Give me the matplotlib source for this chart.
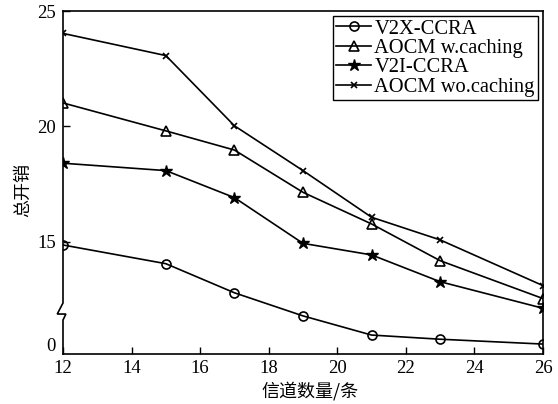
import matplotlib
matplotlib.use('Agg')
import matplotlib.pyplot as plt
from matplotlib.lines import Line2D
import matplotlib.transforms as mtransforms

# channel counts and total cost for each scheme
channels = [12, 15, 17, 19, 21, 23, 26]
v2x_ccra = [14.87, 14.06, 12.80, 11.80, 10.97, 10.79, 10.58]
aocm_w_caching = [21.02, 19.81, 18.98, 17.15, 15.78, 14.19, 12.55]
v2i_ccra = [18.41, 18.09, 16.92, 14.94, 14.44, 13.28, 12.13]
aocm_wo_caching = [24.03, 23.07, 20.03, 18.09, 16.07, 15.09, 13.11]

ytick_vals = [10.55, 15, 20, 25]
ytick_labels = ['0', '15', '20', '25']
xtick_vals = [12, 14, 16, 18, 20, 22, 24, 26]

serif = ['Liberation Serif', 'DejaVu Serif']
cjk = ['Noto Sans CJK SC', 'DejaVu Sans']


def main():
    plt.rcParams['font.family'] = serif

    fig = plt.figure(figsize=(5.58, 4.04), dpi=100)
    ax = fig.add_axes([63 / 558, 1 - 354 / 404, 480 / 558, 343 / 404])

    lw = 1.2
    ax.plot(channels, v2x_ccra, color='black', lw=lw, marker='o', ms=6.5,
            mfc='none', mec='black', mew=1.2, label='V2X-CCRA')
    ax.plot(channels, aocm_w_caching, color='black', lw=lw, marker='^', ms=7.5,
            mfc='none', mec='black', mew=1.2, label='AOCM w.caching')
    ax.plot(channels, v2i_ccra, color='black', lw=lw, marker='*', ms=9,
            mfc='black', mec='black', label='V2I-CCRA')
    ax.plot(channels, aocm_wo_caching, color='black', lw=lw, marker='x', ms=5,
            mec='black', mew=1.2, label='AOCM wo.caching')

    ax.set_xlim(12, 26)
    ax.set_ylim(10.15, 25)
    ax.set_xticks(xtick_vals)
    ax.set_yticks(ytick_vals)
    ax.set_yticklabels(ytick_labels)
    ax.tick_params(direction='in', length=5, width=1.0, labelsize=13.5)
    ax.tick_params(axis='x', pad=4)
    ax.tick_params(axis='y', pad=5)
    ax.yaxis.get_major_ticks()[0].tick1line.set_visible(False)

    for side in ['top', 'right', 'bottom']:
        ax.spines[side].set_linewidth(1.2)
    ax.spines['left'].set_visible(False)

    # left spine drawn by hand with a break mark
    trans = mtransforms.blended_transform_factory(ax.transAxes, ax.transData)
    bx = [0, 0, -0.012, 0.006, 0, 0]
    by = [25, 12.36, 11.88, 11.88, 11.62, 10.15]
    ax.add_line(Line2D(bx, by, transform=trans, color='black', lw=1.2,
                       clip_on=False, solid_joinstyle='miter'))

    leg = ax.legend(loc='upper right', fontsize=14.8, frameon=True, fancybox=False,
                    edgecolor='black', framealpha=1, borderaxespad=0.25,
                    labelspacing=0.0, handlelength=1.7, handletextpad=0.15,
                    borderpad=0.15)
    leg.get_frame().set_linewidth(1.0)

    ax.set_ylabel('总开销', family=cjk, fontsize=13)
    ax.yaxis.set_label_coords(-0.083, 0.478)
    ax.set_xlabel('信道数量/条', family=cjk, fontsize=13)
    ax.xaxis.set_label_coords(0.515, -0.108)
    ax.xaxis.label.set_va('center')
    ax.yaxis.label.set_va('center')

    fig.savefig('out.png', dpi=100)


if __name__ == '__main__':
    main()
